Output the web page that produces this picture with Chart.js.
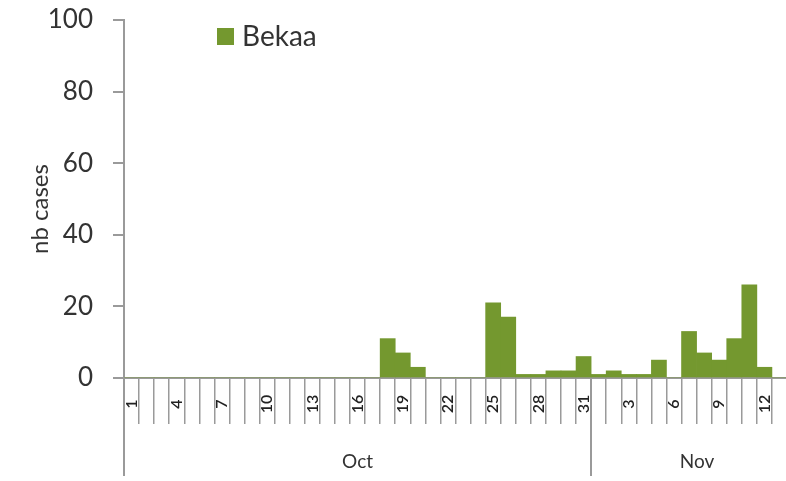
<!DOCTYPE html>
<html>
<head>
<meta charset="utf-8">
<script src="https://cdn.jsdelivr.net/npm/chart.js@4.4.0/dist/chart.umd.min.js"></script>
<style>
  html, body { margin: 0; padding: 0; background: #fff; overflow: hidden; }
</style>
</head>
<body>
<canvas id="c" width="790" height="481"></canvas>
<script>
// Day labels: Oct 1..31 then Nov 1..13
const dayLabels = [
  '1','2','3','4','5','6','7','8','9','10','11','12','13','14','15','16',
  '17','18','19','20','21','22','23','24','25','26','27','28','29','30','31',
  '1','2','3','4','5','6','7','8','9','10','11','12','13'
];
// Month groups (name, number of days shown)
const months = ['Oct', 'Nov'];
const monthDays = [31, 13];

const seriesName = 'Bekaa';
const cases = [
  0,0,0,0,0,0,0,0,0,0,0,0,0,0,0,0,0,
  11,7,3,0,0,0,0,21,17,1,1,2,2,6,
  1,2,1,1,5,0,13,7,5,11,26,3,0
];
const yTicks = [0, 20, 40, 60, 80, 100];

const barColor = '#74982f';
const axisColor = '#9a9a9a';
const textColor = '#333';
const fontFamily = 'Lato, "Open Sans", sans-serif';

// Draws day labels, month group labels, long separators and the legend
const extrasPlugin = {
  id: 'extras',
  afterDraw(chart) {
    const ctx = chart.ctx;
    const x = chart.scales.x;
    const area = chart.chartArea;
    const half = (x.getPixelForValue(1) - x.getPixelForValue(0)) / 2;

    ctx.save();
    // rotated day labels, every third day, centred in the tick band
    ctx.fillStyle = '#222';
    ctx.font = '600 16px ' + fontFamily;
    ctx.textAlign = 'center';
    ctx.textBaseline = 'middle';
    dayLabels.forEach((d, i) => {
      if (i % 3 !== 0) return;
      ctx.save();
      ctx.translate(x.getPixelForValue(i), 404);
      ctx.rotate(-Math.PI / 2);
      ctx.fillText(d, 0, 0);
      ctx.restore();
    });

    ctx.strokeStyle = axisColor;
    ctx.lineWidth = 2;
    let start = 0;
    months.forEach((m, i) => {
      const end = start + monthDays[i] - 1;
      const left = x.getPixelForValue(start) - half;
      const right = x.getPixelForValue(end) + half;
      ctx.beginPath();
      ctx.moveTo(Math.round(left), area.bottom);
      ctx.lineTo(Math.round(left), 476);
      ctx.stroke();
      ctx.fillStyle = textColor;
      ctx.font = '19px ' + fontFamily;
      ctx.textAlign = 'center';
      ctx.textBaseline = 'middle';
      ctx.fillText(m, (left + right) / 2 + (i === 1 ? 8 : 0), 462);
      start = end + 1;
    });

    // legend
    const ds = chart.data.datasets[0];
    ctx.fillStyle = ds.backgroundColor;
    ctx.fillRect(217, 28, 17, 17);
    ctx.fillStyle = textColor;
    ctx.font = '28px ' + fontFamily;
    ctx.textAlign = 'left';
    ctx.textBaseline = 'middle';
    ctx.fillText(ds.label, 242, 37);

    // y axis title, a bit below the middle like the original
    const y = chart.scales.y;
    ctx.font = '24px ' + fontFamily;
    ctx.textAlign = 'center';
    ctx.textBaseline = 'middle';
    ctx.translate(40, (y.top + y.bottom) / 2 + 10);
    ctx.rotate(-Math.PI / 2);
    ctx.fillText('nb cases', 0, 0);
    ctx.restore();
  }
};

new Chart(document.getElementById('c'), {
  type: 'bar',
  data: {
    labels: dayLabels,
    datasets: [{
      label: seriesName,
      data: cases,
      backgroundColor: barColor,
      borderWidth: 0,
      barPercentage: 1,
      categoryPercentage: 1
    }]
  },
  options: {
    responsive: false,
    animation: false,
    layout: { padding: { top: 20, right: 3, left: 0, bottom: 0 } },
    plugins: { legend: { display: false }, tooltip: { enabled: false } },
    scales: {
      x: {
        offset: true,
        afterFit: s => { s.height = 103; s.paddingLeft = 0; s.paddingRight = 0; },
        border: { color: axisColor, width: 2 },
        grid: {
          offset: true,
          drawOnChartArea: false,
          color: axisColor,
          lineWidth: 1.5,
          tickLength: 46
        },
        ticks: {
          autoSkip: false,
          maxRotation: 0,
          callback: () => ''
        }
      },
      y: {
        min: 0,
        max: 100,
        afterFit: s => { s.width = 124; s.paddingTop = 0; s.paddingBottom = 0; },
        afterBuildTicks: s => { s.ticks = yTicks.map(v => ({ value: v })); },
        border: { color: axisColor, width: 2 },
        grid: {
          drawOnChartArea: false,
          color: axisColor,
          lineWidth: 2,
          tickLength: 11
        },
        ticks: {
          padding: 20,
          color: textColor,
          font: { family: fontFamily, size: 26 }
        }
      }
    }
  },
  plugins: [extrasPlugin]
});
</script>
</body>
</html>
